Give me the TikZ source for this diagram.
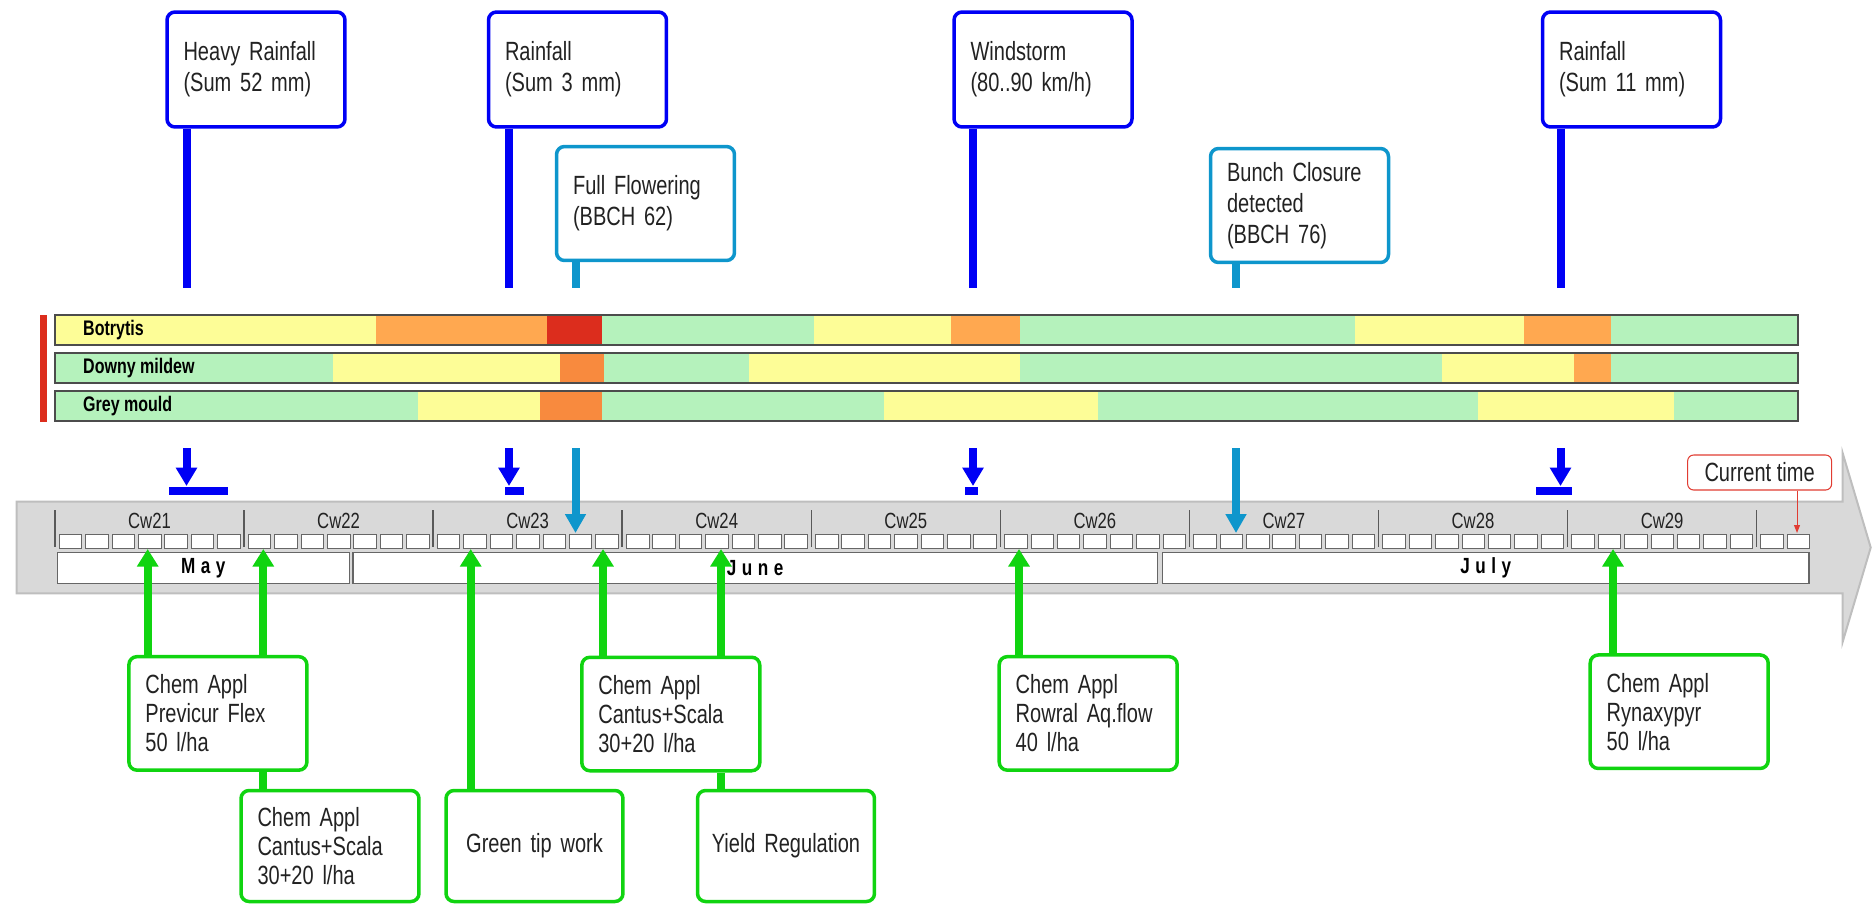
\documentclass[tikz,border=0pt]{standalone}
\usepackage{fontspec}
\setmainfont[FakeStretch=0.76]{Liberation Sans}
\newfontfamily\monthfont[FakeStretch=0.78,LetterSpace=25]{Liberation Sans}
\usepackage{xcolor}
\usetikzlibrary{arrows.meta, positioning}

\definecolor{rainblue}{RGB}{0,0,245}
\definecolor{stageblue}{RGB}{14,150,204}
\definecolor{chemgreen}{RGB}{16,212,16}
\definecolor{nowred}{RGB}{225,60,50}
\definecolor{riskyel}{RGB}{253,253,151}
\definecolor{riskora}{RGB}{255,168,80}
\definecolor{riskdark}{RGB}{248,138,62}
\definecolor{riskred}{RGB}{220,45,29}
\definecolor{riskgrn}{RGB}{181,242,188}
\definecolor{bandgray}{RGB}{217,217,217}
\definecolor{bandedge}{RGB}{190,190,190}
\definecolor{txt}{RGB}{34,34,34}

\begin{document}
\begin{tikzpicture}[
    x=0.02cm, y=-0.02cm,
    every node/.style={text=txt},
    eventbox/.style={draw=rainblue, line width=0.07cm, rounded corners=0.16cm, fill=white, align=left, text width=2.9cm, inner xsep=0.33cm, minimum height=2.3cm, font=\fontsize{15}{17.5}\selectfont},
    stagebox/.style={eventbox, draw=stageblue, minimum height=2.28cm},
    chembox/.style={eventbox, draw=chemgreen, minimum height=2.27cm, font=\fontsize{15}{16.5}\selectfont},
    workbox/.style={chembox, align=center, text width=3.3cm, inner xsep=0.12cm, minimum height=2.22cm},
    nowbox/.style={draw=nowred, line width=0.6pt, rounded corners=0.12cm, fill=white, minimum width=2.88cm, minimum height=0.7cm, inner sep=0pt, font=\fontsize{15}{17}\selectfont},
    rainstem/.style={rainblue, line width=0.16cm},
    rainarrow/.style={rainstem, -{Triangle[length=0.37cm, width=0.41cm]}},
    stagestem/.style={stageblue, line width=0.16cm},
    stagearrow/.style={stagestem, -{Triangle[length=0.38cm, width=0.4cm]}},
    chemstem/.style={chemgreen, line width=0.16cm},
    chemarrow/.style={chemstem, -{Triangle[length=0.35cm, width=0.41cm]}},
    nowarrow/.style={nowred, line width=0.6pt, -{Triangle[length=0.16cm, width=0.12cm]}},
    riskframe/.style={draw=black!70, line width=0.025cm},
    risklabel/.style={anchor=west, text=black, font=\bfseries\fontsize{12}{14}\selectfont},
    band/.style={fill=bandgray, draw=bandedge, line width=0.04cm},
    daybox/.style={fill=white, draw=black!60, line width=0.02cm},
    weekline/.style={black!65, line width=0.03cm},
    cwlabel/.style={font=\fontsize{12.5}{14}\selectfont},
    monthbox/.style={draw=black!60, fill=white, line width=0.03cm, minimum height=0.62cm, inner sep=0pt, text=black, font=\monthfont\bfseries\fontsize{12.5}{14}\selectfont}
]
    \useasboundingbox (0,0) rectangle (1875,903);

    % Weather events
    \node[eventbox] (heavy) at (256,69.5) {Heavy Rainfall\\(Sum 52 mm)};
    \node[eventbox] (rainA) at (577.5,69.5) {Rainfall\\(Sum 3 mm)};
    \node[eventbox] (storm) at (1043,69.5) {Windstorm\\(80..90 km/h)};
    \node[eventbox] (rainB) at (1631.5,69.5) {Rainfall\\(Sum 11 mm)};

    % Growth stages
    \node[stagebox] (flower) at (645.5,203.5) {Full Flowering\\(BBCH 62)};
    \node[stagebox] (bunch) at (1299.5,205.5) {Bunch Closure\\detected\\(BBCH 76)};

    \coordinate (r1) at (186.5,288);
    \coordinate (r2) at (509,288);
    \coordinate (r3) at (973,288);
    \coordinate (r4) at (1560.5,288);
    \coordinate (s1) at (575.5,288);
    \coordinate (s2) at (1236,288);
    \draw[rainstem] (heavy.south -| r1) -- (r1);
    \draw[rainstem] (rainA.south -| r2) -- (r2);
    \draw[rainstem] (storm.south -| r3) -- (r3);
    \draw[rainstem] (rainB.south -| r4) -- (r4);
    \draw[stagestem] (flower.south -| s1) -- (s1);
    \draw[stagestem] (bunch.south -| s2) -- (s2);

    % Risk bars
    \fill[riskred] (39.5,315) rectangle (46.7,422);
    \foreach \a/\b/\c in {55/376/riskyel, 376/546.5/riskora, 546.5/602/riskred, 602/813.5/riskgrn, 813.5/950.7/riskyel, 950.7/1019.5/riskora, 1019.5/1355.4/riskgrn, 1355.4/1523.7/riskyel, 1523.7/1611/riskora, 1611/1798/riskgrn}
        \fill[\c] (\a,315) rectangle (\b,345);
    \foreach \a/\b/\c in {55/333/riskgrn, 333/559.5/riskyel, 559.5/603.8/riskdark, 603.8/748.7/riskgrn, 748.7/1019.5/riskyel, 1019.5/1441.9/riskgrn, 1441.9/1574/riskyel, 1574/1611/riskora, 1611/1798/riskgrn}
        \fill[\c] (\a,353) rectangle (\b,383);
    \foreach \a/\b/\c in {55/418.4/riskgrn, 418.4/539.7/riskyel, 539.7/602.2/riskdark, 602.2/883.5/riskgrn, 883.5/1097.8/riskyel, 1097.8/1477.7/riskgrn, 1477.7/1674/riskyel, 1674/1798/riskgrn}
        \fill[\c] (\a,391) rectangle (\b,421);
    \foreach \y in {315,353,391}
        \draw[riskframe] (55,\y) rectangle (1798,\y+30);
    \node[risklabel] (botrytis) at (77,330) {Botrytis};
    \node[risklabel] (downy) at (77,368) {Downy mildew};
    \node[risklabel] (grey) at (77,406) {Grey mould};

    % Event markers
    \foreach \x/\a/\b in {186.5/169/228.3, 509/505/524, 973/964.6/977.6, 1560.5/1535.8/1572.4} {
        \draw[rainarrow] (\x,448) -- (\x,486);
        \fill[rainblue] (\a,487) rectangle (\b,495);
    }

    % Timeline
    \draw[band] (16.7,501.7) -- (1842.7,501.7) -- (1842.7,453.3) -- (1870.7,547.5)
        -- (1842.7,641.7) -- (1842.7,593.3) -- (16.7,593.3) -- cycle;
    \foreach \w [count=\k from 0] in {21,...,29} {
        \pgfmathsetmacro\s{55+189.07*\k}
        \draw[weekline] (\s,510) -- (\s,547);
        \node[cwlabel] (cw\w) at (\s+94.5,521) {Cw\w};
        \foreach \d in {0,...,6}
            \draw[daybox] (\s+4.3+26.4*\d,534.5) rectangle ++(22.5,13.5);
    }
    \draw[weekline] (1756.6,510) -- (1756.6,547);
    \foreach \d in {0,1}
        \draw[daybox] (1760.9+26.4*\d,534.5) rectangle ++(22.5,13.5);
    \node[monthbox, minimum width=5.84cm] (may) at (203.3,567.8) {May};
    \node[monthbox, minimum width=16.09cm] (june) at (755.2,567.8) {June};
    \node[monthbox, minimum width=12.93cm] (july) at (1485.7,567.8) {July};

    \coordinate (f1) at (575.5,448);
    \coordinate (f2) at (1236,448);
    \draw[stagearrow] (f1) -- (575.5,533);
    \draw[stagearrow] (f2) -- (1236,533);

    % Current time
    \node[nowbox] (now) at (1759.6,472.5) {Current time};
    \coordinate (t) at (1797,533);
    \draw[nowarrow] (now.south -| t) -- (t);

    % Field work
    \node[chembox] (g1) at (217.9,713.4) {Chem Appl\\Previcur Flex\\50 l/ha};
    \node[chembox, minimum height=2.22cm] (g2) at (330,846) {Chem Appl\\Cantus+Scala\\30+20 l/ha};
    \node[workbox] (g3) at (534.5,846) {Green tip work};
    \node[chembox] (g4) at (670.8,714) {Chem Appl\\Cantus+Scala\\30+20 l/ha};
    \node[workbox] (g5) at (786,846) {Yield Regulation};
    \node[chembox] (g6) at (1088.2,713.4) {Chem Appl\\Rowral Aq.flow\\40 l/ha};
    \node[chembox] (g7) at (1679.2,711.7) {Chem Appl\\Rynaxypyr\\50 l/ha};

    \coordinate (a1) at (147.7,549);
    \coordinate (a2) at (263.3,549);
    \coordinate (a3) at (470.7,549);
    \coordinate (a4) at (603,549);
    \coordinate (a5) at (721,549);
    \coordinate (a6) at (1019,549);
    \coordinate (a7) at (1613,549);
    \draw[chemarrow] (g1.north -| a1) -- (a1);
    \draw[chemstem] (g2.north -| a2) -- (g1.south -| a2);
    \draw[chemarrow] (g1.north -| a2) -- (a2);
    \draw[chemarrow] (g3.north -| a3) -- (a3);
    \draw[chemarrow] (g4.north -| a4) -- (a4);
    \draw[chemstem] (g5.north -| a5) -- (g4.south -| a5);
    \draw[chemarrow] (g4.north -| a5) -- (a5);
    \draw[chemarrow] (g6.north -| a6) -- (a6);
    \draw[chemarrow] (g7.north -| a7) -- (a7);
\end{tikzpicture}
\end{document}
